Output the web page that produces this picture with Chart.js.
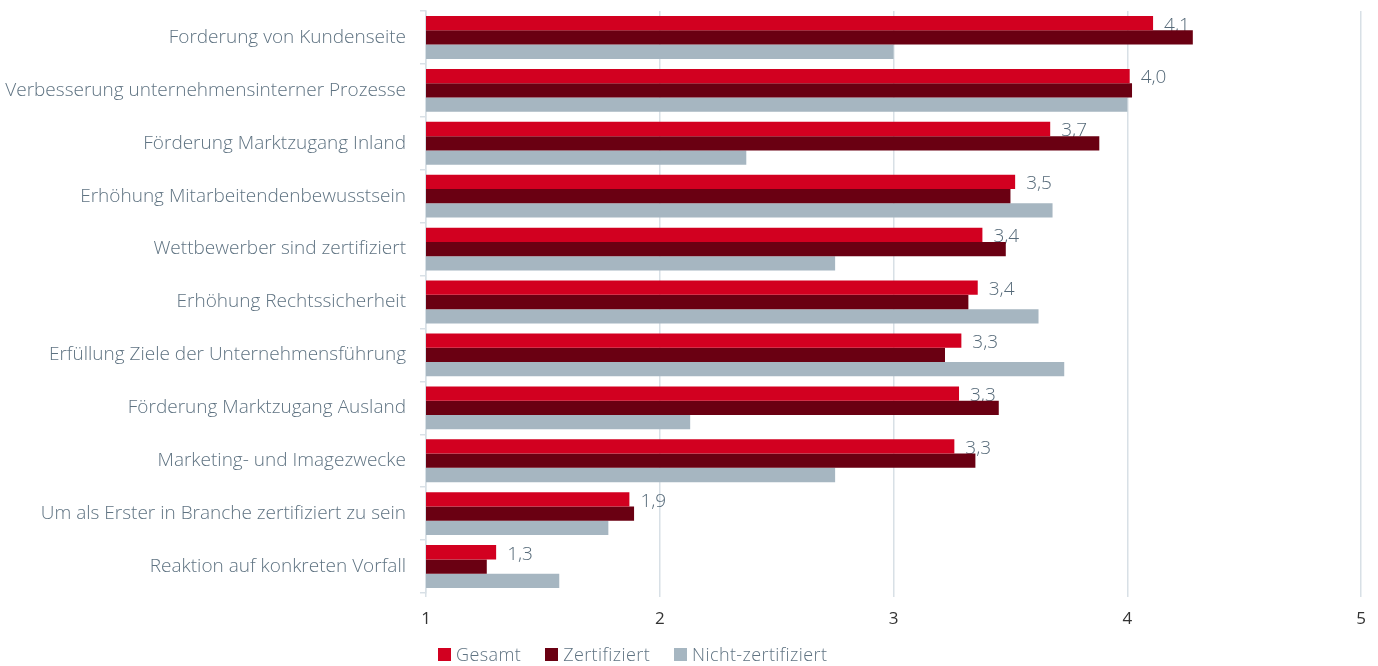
<!DOCTYPE html>
<html>
<head>
<meta charset="utf-8">
<script src="https://cdn.jsdelivr.net/npm/chart.js"></script>
<style>
  body { margin: 0; background: #fff; font-family: "Open Sans", sans-serif; }
  #wrap { position: relative; width: 1378px; height: 666px; }
  #legend { position: absolute; left: 438px; top: 642px; display: flex; font-size: 18px; font-weight: 300; letter-spacing: 0.4px; color: #5f7382; }
  #legend span.item { display: flex; align-items: center; margin-right: 24px; }
  #legend span.box { width: 13px; height: 13px; margin-right: 5px; display: inline-block; }
</style>
</head>
<body>
<div id="wrap">
  <canvas id="myChart" width="1378" height="666"></canvas>
  <div id="legend"></div>
</div>
<script>
const categories = [
  'Forderung von Kundenseite',
  'Verbesserung unternehmensinterner Prozesse',
  'Förderung Marktzugang Inland',
  'Erhöhung Mitarbeitendenbewusstsein',
  'Wettbewerber sind zertifiziert',
  'Erhöhung Rechtssicherheit',
  'Erfüllung Ziele der Unternehmensführung',
  'Förderung Marktzugang Ausland',
  'Marketing- und Imagezwecke',
  'Um als Erster in Branche zertifiziert zu sein',
  'Reaktion auf konkreten Vorfall'
];
const seriesNames = ['Gesamt', 'Zertifiziert', 'Nicht-zertifiziert'];
const gesamt = [4.11, 4.01, 3.67, 3.52, 3.38, 3.36, 3.29, 3.28, 3.26, 1.87, 1.30];
const zertifiziert = [4.28, 4.02, 3.88, 3.50, 3.48, 3.32, 3.22, 3.45, 3.35, 1.89, 1.26];
const nichtZertifiziert = [3.00, 4.00, 2.37, 3.68, 2.75, 3.62, 3.73, 2.13, 2.75, 1.78, 1.57];
const xTicks = [1, 2, 3, 4, 5];

const colors = ['#d20020', '#6a0012', '#a6b6c1'];
const labelColor = '#5f7382';
const gridColor = '#d8e0e6';

// value labels next to the Gesamt bars (drawn under the bars like in the original)
const valueLabels = {
  id: 'valueLabels',
  beforeDatasetsDraw(chart) {
    const ctx = chart.ctx;
    const meta = chart.getDatasetMeta(0);
    ctx.save();
    ctx.font = '300 19px "Open Sans"';
    ctx.fillStyle = '#566a79';
    ctx.textAlign = 'left';
    ctx.textBaseline = 'middle';
    meta.data.forEach((bar, i) => {
      const txt = gesamt[i].toFixed(1).replace('.', ',');
      ctx.fillText(txt, bar.x + 11, bar.y + 2);
    });
    ctx.restore();
  }
};

const data = {
  labels: categories,
  datasets: [
    { label: seriesNames[0], data: gesamt, backgroundColor: colors[0] },
    { label: seriesNames[1], data: zertifiziert, backgroundColor: colors[1] },
    { label: seriesNames[2], data: nichtZertifiziert, backgroundColor: colors[2] }
  ]
};

const config = {
  type: 'bar',
  data: data,
  options: {
    indexAxis: 'y',
    responsive: false,
    animation: false,
    layout: { padding: { top: 11, right: 16, bottom: 0, left: 0 } },
    datasets: { bar: { categoryPercentage: 0.81, barPercentage: 1.0 } },
    plugins: { legend: { display: false }, tooltip: { enabled: false } },
    scales: {
      x: {
        min: 1, max: 5,
        afterBuildTicks(scale) { scale.ticks = xTicks.map(v => ({ value: v })); },
        afterFit(scale) { scale.height = 73; },
        grid: { color: gridColor, lineWidth: 1.5, tickLength: 4 },
        border: { display: false },
        ticks: { color: '#333', font: { family: 'Open Sans', size: 17 }, padding: 12 }
      },
      y: {
        afterFit(scale) { scale.width = 426; scale.paddingTop = 0; scale.paddingBottom = 0; },
        grid: { drawOnChartArea: false, color: gridColor, tickLength: 6, lineWidth: 1.5 },
        border: { color: gridColor, width: 1.5 },
        ticks: { color: labelColor, font: { family: 'Open Sans', size: 19, weight: 300 }, padding: 14 }
      }
    }
  },
  plugins: [valueLabels]
};

const myChart = new Chart(document.getElementById('myChart'), config);

// legend below the chart
const legend = document.getElementById('legend');
seriesNames.forEach((name, i) => {
  const item = document.createElement('span');
  item.className = 'item';
  item.innerHTML = '<span class="box" style="background:' + colors[i] + '"></span>' + name;
  legend.appendChild(item);
});
</script>
</body>
</html>
